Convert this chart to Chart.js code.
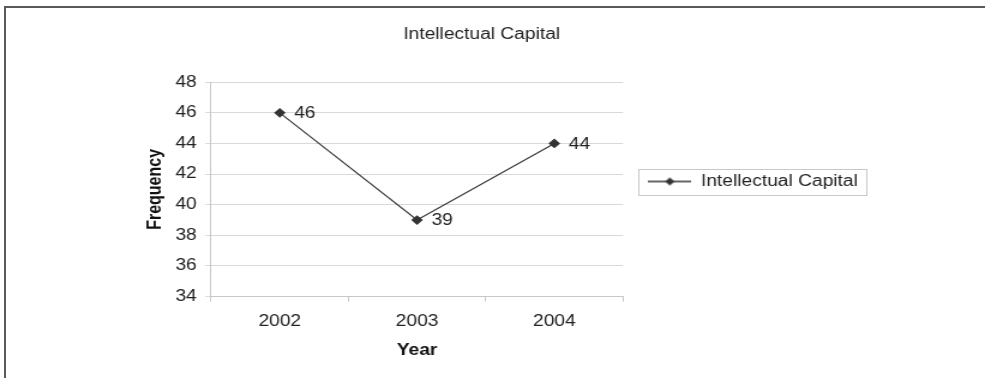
<!DOCTYPE html>
<html>
<head>
<meta charset="utf-8">
<script src="https://cdn.jsdelivr.net/npm/chart.js@4.4.0/dist/chart.umd.min.js"></script>
<style>
  html, body { margin: 0; padding: 0; background: #fff; }
  #wrap { position: relative; width: 985px; height: 378px; overflow: hidden; }
  /* the source picture is stretched sideways, so the chart is drawn narrow and widened */
  #stretch { position: absolute; left: 0; top: 0; width: 821px; height: 378px;
             transform: scaleX(1.19976); transform-origin: 0 0; }
  #frame { position: absolute; left: 4px; top: 6px; width: 990px; height: 380px;
           border-top: 2px solid #5a5a5a; border-left: 2px solid #5a5a5a; }
</style>
</head>
<body>
<div id="wrap">
  <div id="stretch"><canvas id="chart" width="821" height="378" style="width:821px;height:378px"></canvas></div>
  <div id="frame"></div>
</div>
<script>
const years = ['2002', '2003', '2004'];
const capital = [46, 39, 44];
const seriesName = 'Intellectual Capital';
const yMin = 34;
const yMax = 48;
const yStep = 2;

Chart.defaults.font.family = '"Liberation Sans", Arial, sans-serif';
Chart.defaults.font.size = 16;
Chart.defaults.color = '#222';

// legend marker: short line with a diamond on it
const marker = document.createElement('canvas');
marker.width = 36;
marker.height = 10;
const mctx = marker.getContext('2d');
mctx.strokeStyle = '#333';
mctx.lineWidth = 1.3;
mctx.beginPath();
mctx.moveTo(0, 5);
mctx.lineTo(36, 5);
mctx.stroke();
mctx.fillStyle = '#333';
mctx.beginPath();
mctx.moveTo(18, 1);
mctx.lineTo(22, 5);
mctx.lineTo(18, 9);
mctx.lineTo(14, 5);
mctx.closePath();
mctx.fill();

const valueLabels = {
  id: 'valueLabels',
  afterDatasetsDraw(chart) {
    const ctx = chart.ctx;
    const meta = chart.getDatasetMeta(0);
    ctx.save();
    ctx.font = '16px "Liberation Sans", Arial, sans-serif';
    ctx.fillStyle = '#222';
    ctx.textAlign = 'left';
    ctx.textBaseline = 'middle';
    meta.data.forEach(function(pt, i) {
      ctx.fillText(chart.data.datasets[0].data[i], pt.x + 12, pt.y + 1);
    });
    ctx.restore();
  }
};

const legendBorder = {
  id: 'legendBorder',
  afterDraw(chart) {
    const hb = chart.legend.legendHitBoxes[0];
    if (!hb) return;
    const ctx = chart.ctx;
    ctx.save();
    ctx.strokeStyle = '#c8c8c8';
    ctx.lineWidth = 1;
    ctx.strokeRect(Math.round(hb.left - 8) + 0.5, Math.round(hb.top - 5) + 0.5,
                   Math.round(hb.width + 15), 26);
    ctx.restore();
  }
};

new Chart(document.getElementById('chart'), {
  type: 'line',
  data: {
    labels: years,
    datasets: [{
      label: seriesName,
      data: capital,
      borderColor: '#3a3a3a',
      borderWidth: 1.2,
      backgroundColor: '#333',
      pointBackgroundColor: '#333',
      pointBorderColor: '#333',
      pointStyle: 'rectRot',
      pointRadius: 4,
      tension: 0
    }]
  },
  options: {
    responsive: false,
    animation: false,
    layout: { padding: { left: 78, right: 96, top: 0, bottom: 15 } },
    plugins: {
      title: {
        display: true,
        text: seriesName,
        color: '#222',
        font: { size: 16, weight: 'normal' },
        padding: { top: 25, bottom: 38 }
      },
      legend: {
        position: 'right',
        maxWidth: 300,
        labels: {
          usePointStyle: true,
          pointStyle: marker,
          pointStyleWidth: 36,
          padding: 21,
          color: '#222',
          font: { size: 16 }
        }
      },
      tooltip: { enabled: false }
    },
    scales: {
      x: {
        offset: true,
        grid: { offset: true, drawOnChartArea: false, tickLength: 5, color: '#c8c8c8' },
        border: { color: '#c8c8c8' },
        ticks: { padding: 10, color: '#222' },
        title: {
          display: true, text: 'Year', color: '#111',
          font: { size: 16, weight: 'bold' },
          padding: { top: 0, bottom: 3 }
        }
      },
      y: {
        min: yMin,
        max: yMax,
        grid: { color: '#d9d9d9', tickLength: 5 },
        border: { color: '#c8c8c8' },
        ticks: { stepSize: yStep, padding: 7, color: '#222' },
        title: {
          display: true, text: 'Frequency', color: '#111',
          font: { size: 16, weight: 'bold' },
          padding: { top: 42, bottom: 0 }
        }
      }
    }
  },
  plugins: [valueLabels, legendBorder]
});
</script>
</body>
</html>
